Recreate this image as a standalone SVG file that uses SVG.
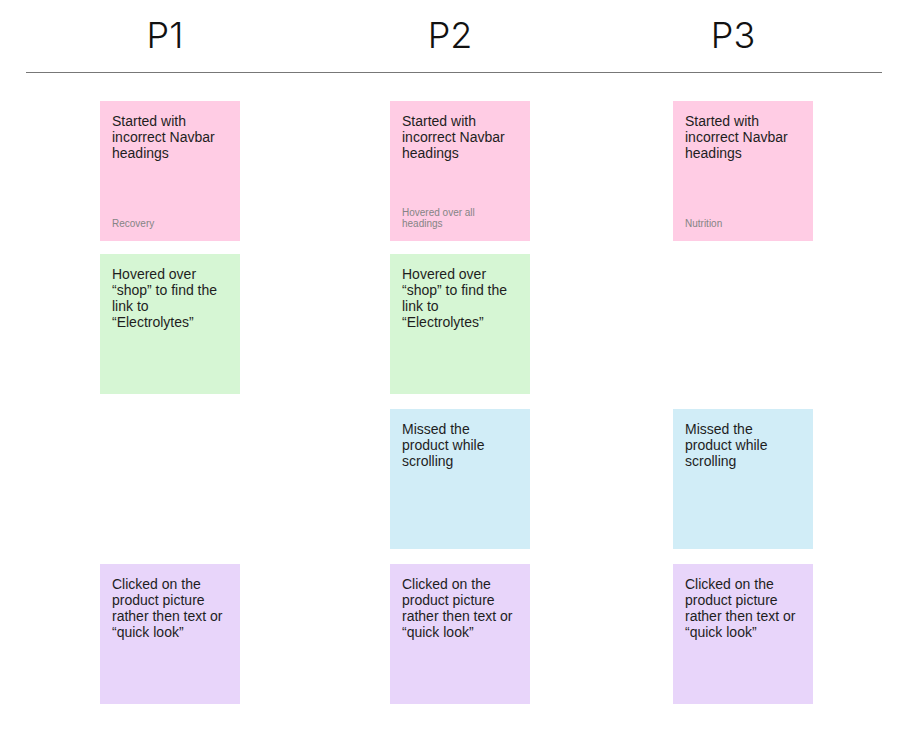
<svg xmlns="http://www.w3.org/2000/svg" width="917" height="739" viewBox="0 0 917 739">
<style>
.h{font-family:Inter,"Liberation Sans",sans-serif;font-size:36px;font-weight:300;fill:#111;text-anchor:middle}
.t{font-family:"Liberation Sans",Arial,sans-serif;font-size:14px;fill:#1e1e1e}
.s{font-family:"Liberation Sans",Arial,sans-serif;font-size:10px;fill:#858585}
.pink{fill:#ffcce4}
.green{fill:#d6f6d4}
.blue{fill:#d1edf7}
.purple{fill:#e8d5fa}
</style>
<rect width="917" height="739" fill="#fff"/>
<g id="headers">
<text class="h" x="165" y="48">P1</text>
<text class="h" x="450" y="48">P2</text>
<text class="h" x="733" y="48">P3</text>
<line x1="26" y1="72.5" x2="882" y2="72.5" stroke="#777" stroke-width="1"/>
</g>
<g id="p1-nav"><rect class="pink" x="100" y="101" width="140" height="140"/>
<text class="t" x="112" y="126">Started with</text><text class="t" x="112" y="142">incorrect Navbar</text><text class="t" x="112" y="158">headings</text>
<text class="s" x="112" y="227">Recovery</text></g>
<g id="p2-nav"><rect class="pink" x="390" y="101" width="140" height="140"/>
<text class="t" x="402" y="126">Started with</text><text class="t" x="402" y="142">incorrect Navbar</text><text class="t" x="402" y="158">headings</text>
<text class="s" x="402" y="216">Hovered over all</text><text class="s" x="402" y="227">headings</text></g>
<g id="p3-nav"><rect class="pink" x="673" y="101" width="140" height="140"/>
<text class="t" x="685" y="126">Started with</text><text class="t" x="685" y="142">incorrect Navbar</text><text class="t" x="685" y="158">headings</text>
<text class="s" x="685" y="227">Nutrition</text></g>
<g id="p1-shop"><rect class="green" x="100" y="254" width="140" height="140"/>
<text class="t" x="112" y="279">Hovered over</text><text class="t" x="112" y="295">“shop” to find the</text><text class="t" x="112" y="311">link to</text><text class="t" x="112" y="327">“Electrolytes”</text></g>
<g id="p2-shop"><rect class="green" x="390" y="254" width="140" height="140"/>
<text class="t" x="402" y="279">Hovered over</text><text class="t" x="402" y="295">“shop” to find the</text><text class="t" x="402" y="311">link to</text><text class="t" x="402" y="327">“Electrolytes”</text></g>
<g id="p2-missed"><rect class="blue" x="390" y="409" width="140" height="140"/>
<text class="t" x="402" y="434">Missed the</text><text class="t" x="402" y="450">product while</text><text class="t" x="402" y="466">scrolling</text></g>
<g id="p3-missed"><rect class="blue" x="673" y="409" width="140" height="140"/>
<text class="t" x="685" y="434">Missed the</text><text class="t" x="685" y="450">product while</text><text class="t" x="685" y="466">scrolling</text></g>
<g id="p1-click"><rect class="purple" x="100" y="564" width="140" height="140"/>
<text class="t" x="112" y="589">Clicked on the</text><text class="t" x="112" y="605">product picture</text><text class="t" x="112" y="621">rather then text or</text><text class="t" x="112" y="637">“quick look”</text></g>
<g id="p2-click"><rect class="purple" x="390" y="564" width="140" height="140"/>
<text class="t" x="402" y="589">Clicked on the</text><text class="t" x="402" y="605">product picture</text><text class="t" x="402" y="621">rather then text or</text><text class="t" x="402" y="637">“quick look”</text></g>
<g id="p3-click"><rect class="purple" x="673" y="564" width="140" height="140"/>
<text class="t" x="685" y="589">Clicked on the</text><text class="t" x="685" y="605">product picture</text><text class="t" x="685" y="621">rather then text or</text><text class="t" x="685" y="637">“quick look”</text></g>
<g id="connectors"></g>
</svg>
